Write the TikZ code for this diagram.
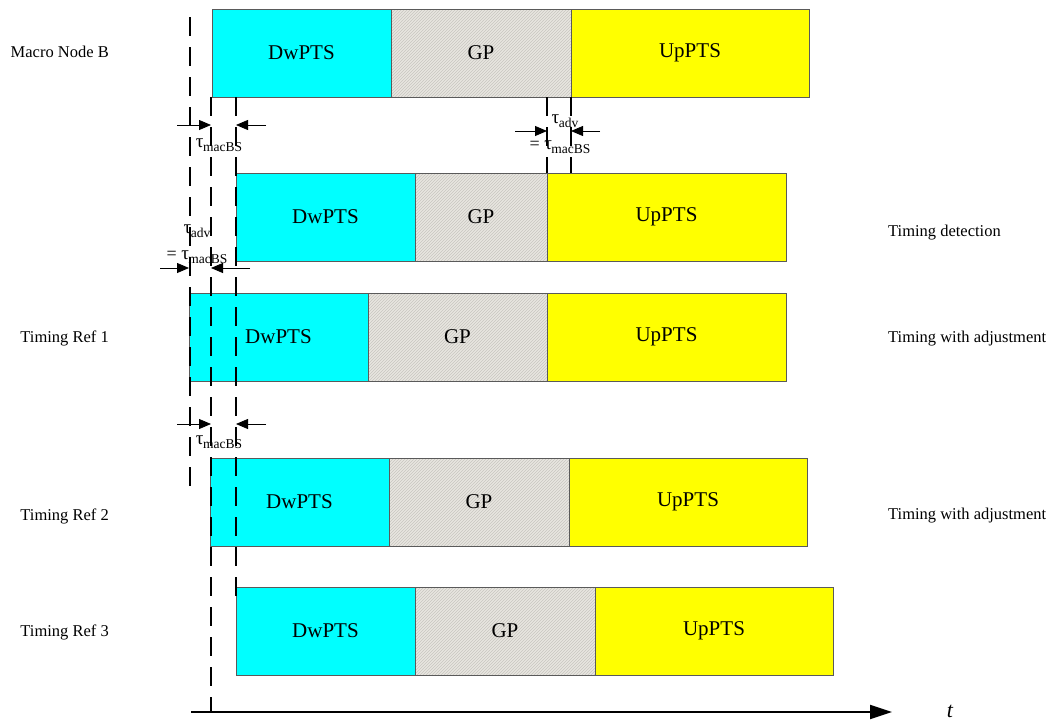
\documentclass[tikz,border=0pt]{standalone}
\usepackage{fontspec}
\setmainfont{Liberation Serif}
\usetikzlibrary{arrows.meta,patterns}
\definecolor{dwc}{RGB}{0,255,255}
\definecolor{upc}{RGB}{255,255,0}
\definecolor{gpc}{RGB}{232,230,224}
\definecolor{hatchc}{RGB}{200,198,192}
\definecolor{edgec}{RGB}{90,90,90}
\newcommand\framerow[6]{%
  \node[dwseg,minimum width=#4pt] (#1d) at (#2,#3) {DwPTS};
  \node[gpseg,minimum width=#5pt] (#1g) at (#1d.north east) {GP};
  \node[upseg,minimum width=#6pt] (#1u) at (#1g.north east) {UpPTS};}
\newcommand\tausub[1]{{\fontsize{19}{20}\selectfont τ}\kern-0.5pt\raisebox{-4.5pt}{\fontsize{13.5}{14}\selectfont #1}}
\begin{document}
\begin{tikzpicture}[x=1pt,y=-1pt,
  seg/.style={draw=edgec,line width=0.8pt,minimum height=88pt,inner sep=0pt,outer sep=0pt,anchor=north west,font=\fontsize{21}{24}\selectfont},
  dwseg/.style={seg,fill=dwc},
  gpseg/.style={seg,fill=gpc,postaction={pattern=north east lines,pattern color=hatchc},postaction={draw=edgec,line width=0.8pt}},
  upseg/.style={seg,fill=upc},
  lab/.style={font=\fontsize{16.5}{19}\selectfont,inner sep=0pt},
  taulab/.style={font=\fontsize{18}{20}\selectfont,inner sep=0pt},
  guide/.style={line width=2.4pt,dash pattern=on 19pt off 11pt},
  meas/.style={line width=0.8pt,-{Triangle[length=12pt,width=10pt]}},
  axisline/.style={line width=2pt,-{Triangle[length=22pt,width=14pt]}}]
\useasboundingbox (0,0) rectangle (1055,720);
% frame rows
\framerow{a}{212}{9}{179}{180}{238}
\framerow{b}{236}{173}{179}{132}{239}
\framerow{c}{189}{293}{179}{179}{239}
\framerow{e}{210}{458}{179}{180}{238}
\framerow{f}{236}{587}{179}{180}{238}
% row labels
\node[lab,anchor=east] (lmacro) at (109,52) {Macro Node B};
\node[lab,anchor=east] (lref1) at (109,338) {Timing Ref 1};
\node[lab,anchor=east] (lref2) at (109,516) {Timing Ref 2};
\node[lab,anchor=east] (lref3) at (109,632) {Timing Ref 3};
\node[lab,anchor=west] (ldet) at (888,233) {Timing detection};
\node[lab,anchor=west] (ladj1) at (888,339) {Timing with adjustment};
\node[lab,anchor=west] (ladj2) at (888,516) {Timing with adjustment};
% dashed guides
\coordinate (gAt) at (190,17);  \coordinate (gAb) at (190,493);
\coordinate (gBt) at (211,97);  \coordinate (gBb) at (211,711);
\coordinate (gCt) at (236,97);  \coordinate (gCb) at (236,602);
\coordinate (gDt) at (547,97);  \coordinate (gDb) at (547,173);
\coordinate (gEt) at (571,97);  \coordinate (gEb) at (571,173);
\draw[guide] (gAt) -- (gAb);
\draw[guide] (gBt) -- (gBb);
\draw[guide] (gCt) -- (gCb);
\draw[guide] (gDt) -- (gDb);
\draw[guide] (gEt) -- (gEb);
% measurement arrows
\coordinate (m1a) at (177,125); \coordinate (m1b) at (211,125);
\coordinate (m1c) at (266,125); \coordinate (m1d) at (236,125);
\draw[meas] (m1a) -- (m1b);
\draw[meas] (m1c) -- (m1d);
\node[taulab] (t1) at (219,145) {\tausub{macBS}};
\coordinate (m2a) at (515,131); \coordinate (m2b) at (547,131);
\coordinate (m2c) at (600,131); \coordinate (m2d) at (571,131);
\draw[meas] (m2a) -- (m2b);
\draw[meas] (m2c) -- (m2d);
\node[taulab] (t2a) at (565,121) {\tausub{adv}};
\node[taulab] (t2b) at (560,147) {= \tausub{macBS}};
\coordinate (m3a) at (160,268); \coordinate (m3b) at (189,268);
\coordinate (m3c) at (250,268); \coordinate (m3d) at (211,268);
\draw[meas] (m3a) -- (m3b);
\draw[meas] (m3c) -- (m3d);
\node[taulab] (t3a) at (197,231) {\tausub{adv}};
\node[taulab] (t3b) at (197,257) {= \tausub{macBS}};
\coordinate (m4a) at (177,424); \coordinate (m4b) at (211,424);
\coordinate (m4c) at (266,424); \coordinate (m4d) at (236,424);
\draw[meas] (m4a) -- (m4b);
\draw[meas] (m4c) -- (m4d);
\node[taulab] (t4) at (219,442) {\tausub{macBS}};
% time axis
\coordinate (ax0) at (191,712); \coordinate (ax1) at (892,712);
\draw[axisline] (ax0) -- (ax1);
\node[font=\fontsize{22}{26}\selectfont\itshape,inner sep=0pt] (tlab) at (950,711) {t};
\end{tikzpicture}
\end{document}
